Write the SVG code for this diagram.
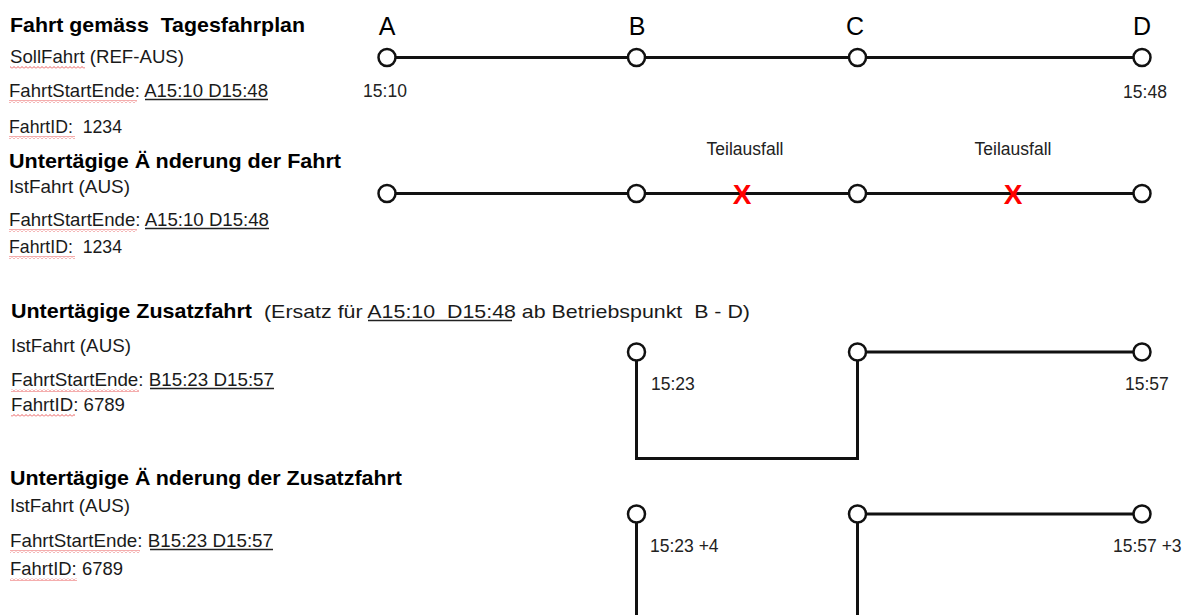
<svg xmlns="http://www.w3.org/2000/svg" width="1195" height="615" viewBox="0 0 1195 615">
<defs>
<pattern id="wave" x="0" y="0" width="4" height="3" patternUnits="userSpaceOnUse">
<path d="M0 2.5 L2 0.5 L4 2.5" fill="none" stroke="#e84a4a" stroke-width="0.9"/>
</pattern>
</defs>
<style>
text{font-family:"Liberation Sans",Arial,sans-serif;fill:#1a1a1a;white-space:pre}
.h{font-weight:bold;font-size:20.5px;fill:#000}
.t{font-size:18.5px}
.lbl{font-size:17.5px;fill:#222}
.big{font-size:25px;fill:#000}
.x{font-size:28px;font-weight:bold;fill:#ff0000}
.st{fill:#fff;stroke:#111;stroke-width:2.5}
.ln{fill:none;stroke:#111;stroke-width:3}
.ul{stroke:#222;stroke-width:1.4}
.wv{fill:url(#wave)}
</style>
<rect width="1195" height="615" fill="#fff"/>

<g id="texts-left">
<text class="h" x="10" y="32" textLength="295" lengthAdjust="spacingAndGlyphs">Fahrt gemäss  Tagesfahrplan</text>
<text class="t" x="10" y="63" textLength="174" lengthAdjust="spacingAndGlyphs">SollFahrt (REF-AUS)</text>
<rect class="wv" x="10" y="66" width="75" height="3"/>
<text class="t" x="9" y="97" textLength="259" lengthAdjust="spacingAndGlyphs">FahrtStartEnde: A15:10 D15:48</text>
<line class="ul" x1="145" y1="99.5" x2="268" y2="99.5"/>
<rect class="wv" x="9" y="100" width="128" height="3"/>
<text class="t" x="9" y="133" textLength="113" lengthAdjust="spacingAndGlyphs">FahrtID:  1234</text>
<rect class="wv" x="9" y="136" width="66" height="3"/>

<text class="h" x="9" y="168" textLength="332" lengthAdjust="spacingAndGlyphs">Untertägige Ä<tspan dx="5">nderung der Fahrt</tspan></text>
<text class="t" x="9" y="193" textLength="121" lengthAdjust="spacingAndGlyphs">IstFahrt (AUS)</text>
<text class="t" x="9" y="226" textLength="260" lengthAdjust="spacingAndGlyphs">FahrtStartEnde: A15:10 D15:48</text>
<line class="ul" x1="145" y1="228.5" x2="269" y2="228.5"/>
<rect class="wv" x="9" y="229" width="128" height="3"/>
<text class="t" x="9" y="253" textLength="113" lengthAdjust="spacingAndGlyphs">FahrtID:  1234</text>
<rect class="wv" x="9" y="256" width="66" height="3"/>

<text class="h" x="11" y="318" textLength="241" lengthAdjust="spacingAndGlyphs">Untertägige Zusatzfahrt</text>
<text class="t" x="264" y="318" textLength="486" lengthAdjust="spacingAndGlyphs">(Ersatz für A15:10  D15:48 ab Betriebspunkt  B - D)</text>
<line class="ul" x1="368" y1="320.5" x2="512" y2="320.5"/>
<text class="t" x="11" y="352" textLength="120" lengthAdjust="spacingAndGlyphs">IstFahrt (AUS)</text>
<text class="t" x="11" y="386" textLength="263" lengthAdjust="spacingAndGlyphs">FahrtStartEnde: B15:23 D15:57</text>
<line class="ul" x1="150" y1="388.5" x2="274" y2="388.5"/>
<rect class="wv" x="11" y="389" width="128" height="3"/>
<text class="t" x="11" y="411" textLength="114" lengthAdjust="spacingAndGlyphs">FahrtID: 6789</text>
<rect class="wv" x="11" y="414" width="64" height="3"/>

<text class="h" x="10" y="485" textLength="392" lengthAdjust="spacingAndGlyphs">Untertägige Ä<tspan dx="5">nderung der Zusatzfahrt</tspan></text>
<text class="t" x="10" y="512" textLength="120" lengthAdjust="spacingAndGlyphs">IstFahrt (AUS)</text>
<text class="t" x="10" y="547" textLength="263" lengthAdjust="spacingAndGlyphs">FahrtStartEnde: B15:23 D15:57</text>
<line class="ul" x1="150" y1="549.5" x2="273" y2="549.5"/>
<rect class="wv" x="10" y="550" width="130" height="3"/>
<text class="t" x="10" y="575" textLength="113" lengthAdjust="spacingAndGlyphs">FahrtID: 6789</text>
<rect class="wv" x="10" y="578" width="67" height="3"/>
</g>

<g id="connectors">
<line class="ln" x1="387" y1="57.5" x2="1142" y2="57.5"/>
<line class="ln" x1="387" y1="193.5" x2="1142" y2="193.5"/>
<path class="ln" d="M636.5 360 V458.5 H857.5 V360"/>
<line class="ln" x1="857.5" y1="352" x2="1142" y2="352"/>
<path class="ln" d="M636.5 522 V615"/>
<path class="ln" d="M857.5 522 V615"/>
<line class="ln" x1="857.5" y1="514" x2="1142" y2="514"/>
</g>

<g id="row1">
<g id="st-A1"><text class="big" x="387" y="35" text-anchor="middle">A</text><circle class="st" cx="387" cy="57.5" r="8.5"/><text class="lbl" x="385" y="97" text-anchor="middle">15:10</text></g>
<g id="st-B1"><text class="big" x="637" y="35" text-anchor="middle">B</text><circle class="st" cx="636.5" cy="57.5" r="8.5"/></g>
<g id="st-C1"><text class="big" x="855" y="35" text-anchor="middle">C</text><circle class="st" cx="857.5" cy="57.5" r="8.5"/></g>
<g id="st-D1"><text class="big" x="1142" y="35" text-anchor="middle">D</text><circle class="st" cx="1142" cy="57.5" r="8.5"/><text class="lbl" x="1145" y="98" text-anchor="middle">15:48</text></g>
</g>

<g id="row2">
<g id="st-A2"><circle class="st" cx="387" cy="193.5" r="8.5"/></g>
<g id="st-B2"><circle class="st" cx="636.5" cy="193.5" r="8.5"/></g>
<g id="st-C2"><circle class="st" cx="857.5" cy="193.5" r="8.5"/></g>
<g id="st-D2"><circle class="st" cx="1142" cy="193.5" r="8.5"/></g>
<g id="x1"><text class="lbl" x="745" y="155" text-anchor="middle">Teilausfall</text><text class="x" x="742" y="203.5" text-anchor="middle">X</text></g>
<g id="x2"><text class="lbl" x="1013" y="155" text-anchor="middle">Teilausfall</text><text class="x" x="1013" y="203.5" text-anchor="middle">X</text></g>
</g>

<g id="row3">
<g id="st-B3"><circle class="st" cx="636.5" cy="352" r="8.5"/><text class="lbl" x="651" y="390">15:23</text></g>
<g id="st-C3"><circle class="st" cx="857.5" cy="352" r="8.5"/></g>
<g id="st-D3"><circle class="st" cx="1142" cy="352" r="8.5"/><text class="lbl" x="1125" y="390">15:57</text></g>
</g>

<g id="row4">
<g id="st-B4"><circle class="st" cx="636.5" cy="514" r="8.5"/><text class="lbl" x="650" y="552">15:23 +4</text></g>
<g id="st-C4"><circle class="st" cx="857.5" cy="514" r="8.5"/></g>
<g id="st-D4"><circle class="st" cx="1142" cy="514" r="8.5"/><text class="lbl" x="1113" y="552">15:57 +3</text></g>
</g>
</svg>
